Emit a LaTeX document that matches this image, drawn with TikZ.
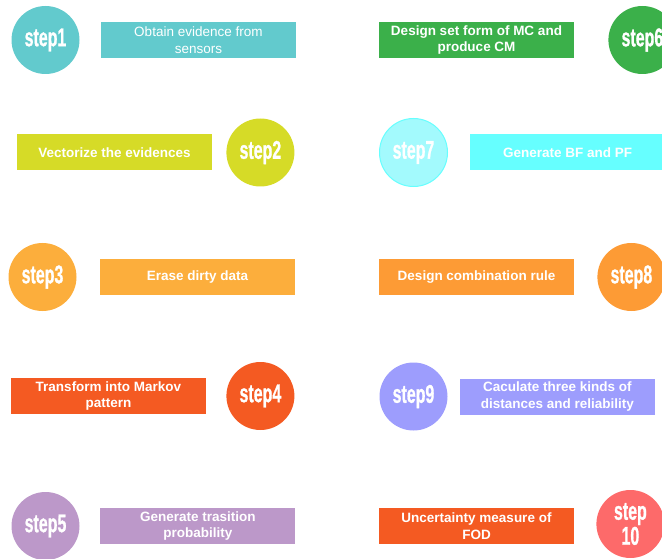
\documentclass[tikz,border=0pt]{standalone}
\usepackage{fontspec}
\setmainfont{Liberation Sans}
\newfontfamily\stepfont[FakeBold=1.2]{Liberation Sans Bold}
\usetikzlibrary{positioning}

\definecolor{cteal}{HTML}{62CACD}
\definecolor{clime}{HTML}{D6DB27}
\definecolor{camber}{HTML}{FCAE3C}
\definecolor{cred}{HTML}{F45A22}
\definecolor{clilac}{HTML}{BC98C9}
\definecolor{cgreen}{HTML}{3BB04A}
\definecolor{caqua}{HTML}{66FFFF}
\definecolor{caqualt}{HTML}{A3FAFD}
\definecolor{corange}{HTML}{FD9B35}
\definecolor{cviolet}{HTML}{9D9DFD}
\definecolor{csalmon}{HTML}{FD6A6A}

\newcommand{\stp}[1]{\scalebox{0.76}[1.22]{#1}}

\begin{document}
\begin{tikzpicture}[x=1pt,y=-1pt,
    stepdot/.style={circle,minimum size=68pt,inner sep=0pt,text=white,align=center,
        font=\fontsize{21}{25}\selectfont\stepfont},
    stepbox/.style={rectangle,minimum width=195pt,minimum height=36pt,inner sep=0pt,text=white,align=center,
        font=\fontsize{13.5}{16.5}\selectfont\bfseries}]
    \useasboundingbox (0,0) rectangle (662,559);

    % left column: step1 .. step5
    \node[stepdot, fill=cteal] (S1) at (45.5,40) {\stp{step1}};
    \node[stepbox, fill=cteal, right=21pt of S1, font=\fontsize{13.5}{16.5}\selectfont] (B1) {Obtain evidence from\\sensors};

    \node[stepbox, fill=clime] (B2) at (114.5,152.5) {Vectorize the evidences};
    \node[stepdot, fill=clime, right=14pt of B2] (S2) {\stp{step2}};

    \node[stepdot, fill=camber] (S3) at (42.5,277) {\stp{step3}};
    \node[stepbox, fill=camber, right=23pt of S3] (B3) {Erase dirty data};

    \node[stepbox, fill=cred] (B4) at (108.5,396) {Transform into Markov\\pattern};
    \node[stepdot, fill=cred, right=20pt of B4] (S4) {\stp{step4}};

    \node[stepdot, fill=clilac] (S5) at (45.5,526) {\stp{step5}};
    \node[stepbox, fill=clilac, right=20.5pt of S5] (B5) {Generate trasition\\probability};

    % right column: step6 .. step10
    \node[stepbox, fill=cgreen] (B6) at (476.5,40) {Design set form of MC and\\produce CM};
    \node[stepdot, fill=cgreen, right=34pt of B6] (S6) {\stp{step6}};

    \node[stepdot, fill=caqualt, draw=caqua, line width=1pt] (S7) at (413.5,152.5) {\stp{step7}};
    \node[stepbox, fill=caqua, right=22pt of S7] (B7) {Generate BF and PF};

    \node[stepbox, fill=corange] (B8) at (476.5,277) {Design combination rule};
    \node[stepdot, fill=corange, right=23pt of B8] (S8) {\stp{step8}};

    \node[stepdot, fill=cviolet] (S9) at (413.5,396.5) {\stp{step9}};
    \node[stepbox, fill=cviolet, right=12pt of S9] (B9) {Caculate three kinds of\\distances and reliability};

    \node[stepbox, fill=cred] (B10) at (476.5,526) {Uncertainty measure of\\FOD};
    \node[stepdot, fill=csalmon, right=22pt of B10, yshift=2pt] (S10) {\stp{step}\\\stp{10}};
\end{tikzpicture}
\end{document}
